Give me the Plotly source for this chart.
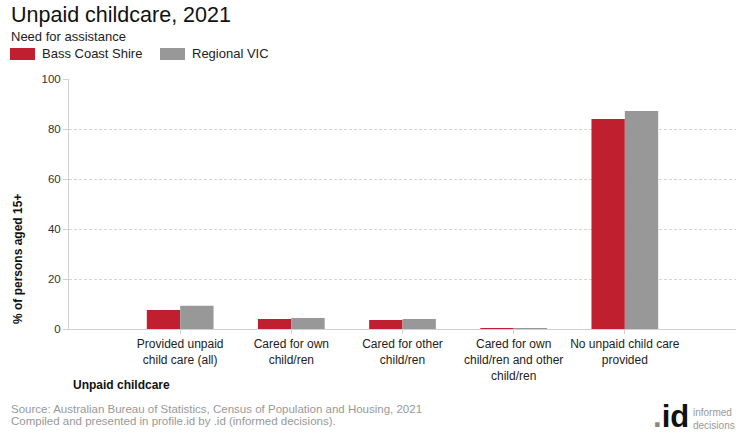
import plotly.graph_objects as go

categories = [
    "Provided unpaid<br>child care (all)",
    "Cared for own<br>child/ren",
    "Cared for other<br>child/ren",
    "Cared for own<br>child/ren and other<br>child/ren",
    "No unpaid child care<br>provided",
]
bass_coast = [7.6, 4.0, 3.6, 0.4, 84.0]
regional_vic = [9.3, 4.4, 4.0, 0.4, 87.2]
y_ticks = [0, 20, 40, 60, 80, 100]

RED = "#c01f2f"
GRAY = "#989898"
FONT = "Liberation Sans, Arial, sans-serif"

fig = go.Figure()
fig.add_trace(go.Bar(x=categories, y=bass_coast, name="Bass Coast Shire",
                     marker=dict(color=RED, line=dict(width=0)), showlegend=False))
fig.add_trace(go.Bar(x=categories, y=regional_vic, name="Regional VIC",
                     marker=dict(color=GRAY, line=dict(width=0)), showlegend=False))

fig.update_layout(
    width=740, height=440,
    margin=dict(l=69, r=4, t=79, b=111),
    paper_bgcolor="white", plot_bgcolor="white",
    barmode="group", bargap=0.4, bargroupgap=0,
    font=dict(family=FONT, size=11, color="#222"),
    xaxis=dict(
        range=[-1, 5], type="category",
        showline=True, linecolor="#d0d0d0", linewidth=1,
        ticks="outside", ticklen=4, tickcolor="#d0d0d0",
        tickfont=dict(size=12, color="#222", family=FONT),
        showgrid=False, zeroline=False,
    ),
    yaxis=dict(
        range=[0, 100], tickvals=y_ticks,
        showline=True, linecolor="#d0d0d0", linewidth=1,
        ticks="outside", ticklen=5, tickcolor="#d0d0d0",
        showgrid=True, gridcolor="#d4d4d4", griddash="3px,2px", gridwidth=1,
        zeroline=False,
        tickfont=dict(size=11.5, color="#333", family=FONT),
    ),
)

def px(x): return (x - 69) / (740 - 69 - 4)
def py(y): return (440 - 111 - y) / (440 - 79 - 111)

annotations = [
    dict(text="Unpaid childcare, 2021", x=px(9), y=py(1), xanchor="left", yanchor="top",
         font=dict(size=21.5, color="#111", family=FONT)),
    dict(text="Need for assistance", x=px(9), y=py(27), xanchor="left", yanchor="top",
         font=dict(size=13, color="#222", family=FONT)),
    dict(text="Bass Coast Shire", x=px(40), y=py(54), xanchor="left", yanchor="middle",
         font=dict(size=13, color="#222", family=FONT)),
    dict(text="Regional VIC", x=px(190), y=py(54), xanchor="left", yanchor="middle",
         font=dict(size=13, color="#222", family=FONT)),
    dict(text="<b>% of persons aged 15+</b>", x=px(18), y=py(259), xanchor="center", yanchor="middle",
         textangle=-90, font=dict(size=12, color="#111", family=FONT)),
    dict(text="<b>Unpaid childcare</b>", x=px(71), y=py(385), xanchor="left", yanchor="middle",
         font=dict(size=12, color="#111", family=FONT)),
    dict(text="Source: Australian Bureau of Statistics, Census of Population and Housing, 2021",
         x=px(9), y=py(409), xanchor="left", yanchor="middle",
         font=dict(size=11.5, color="#999", family=FONT)),
    dict(text="Compiled and presented in profile.id by .id (informed decisions).",
         x=px(9), y=py(421), xanchor="left", yanchor="middle",
         font=dict(size=11.5, color="#999", family=FONT)),
    dict(text="<b><span style='color:#888'>.</span>id</b>", x=px(691), y=py(417), xanchor="right", yanchor="middle",
         font=dict(size=31, color="#111", family=FONT)),
    dict(text="informed<br>decisions", x=px(691), y=py(419), xanchor="left", yanchor="middle",
         align="left", font=dict(size=10, color="#999", family=FONT)),
]
for a in annotations:
    a.update(xref="paper", yref="paper", showarrow=False)
fig.update_layout(annotations=annotations)

fig.update_layout(shapes=[
    dict(type="rect", xref="paper", yref="paper", x0=px(10), x1=px(35), y0=py(48), y1=py(60),
         fillcolor=RED, line=dict(width=0)),
    dict(type="rect", xref="paper", yref="paper", x0=px(160), x1=px(185), y0=py(48), y1=py(60),
         fillcolor=GRAY, line=dict(width=0)),
])

fig.write_html("out.html", config={"displayModeBar": False},
               post_script="document.body.style.margin='0';document.body.style.overflow='hidden';")
